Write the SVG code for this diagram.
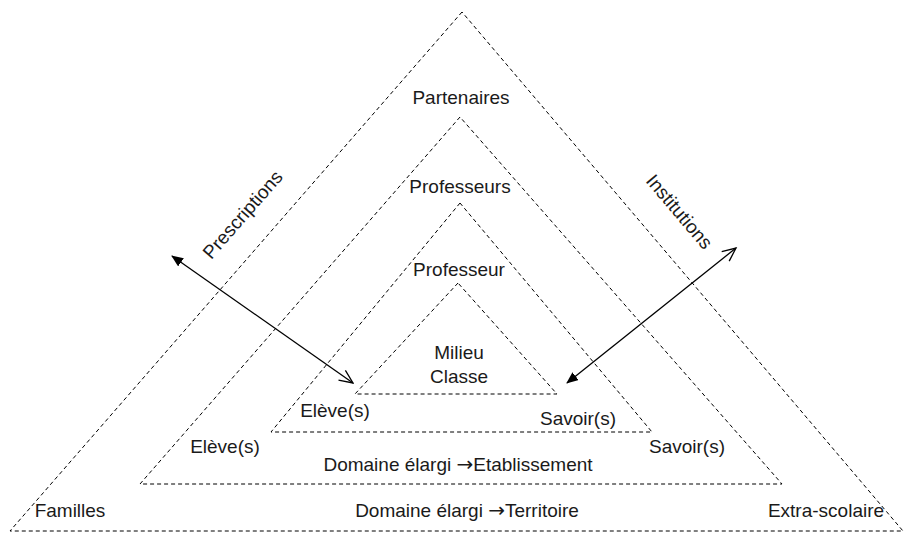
<svg xmlns="http://www.w3.org/2000/svg" width="905" height="534" viewBox="0 0 905 534">
<style>
.tri{fill:none;stroke:#000;stroke-width:1;stroke-dasharray:4 3}
.t{font-family:"Liberation Sans",Arial,sans-serif;font-size:19px;fill:#1a1a1a;text-anchor:middle}
.ar{font-family:"DejaVu Sans",sans-serif;font-size:20px}
.arr{stroke:#000;stroke-width:1.3;fill:none}
</style>
<defs>
<marker id="filled" viewBox="0 0 12 10" refX="11" refY="5" markerWidth="12" markerHeight="10" markerUnits="userSpaceOnUse" orient="auto-start-reverse">
<path d="M0,0 L12,5 L0,10 z" fill="#000"/>
</marker>
<marker id="open" viewBox="0 0 16 14" refX="14.5" refY="7" markerWidth="16" markerHeight="14" markerUnits="userSpaceOnUse" orient="auto-start-reverse">
<path d="M1,1 L14.5,7 L1,13" fill="none" stroke="#000" stroke-width="1.3"/>
</marker>
</defs>
<g id="outer">
<polygon class="tri" points="462,12 10,531 903,531"/>
<text class="t" x="461" y="104">Partenaires</text>
<text class="t" x="70" y="517">Familles</text>
<text class="t" x="467" y="517">Domaine élargi <tspan class="ar">→</tspan>Territoire</text>
<text class="t" x="826" y="517">Extra-scolaire</text>
</g>
<g id="etablissement">
<polygon class="tri" points="460,117 140,484 782,484"/>
<text class="t" x="460" y="193">Professeurs</text>
<text class="t" x="225" y="453">Elève(s)</text>
<text class="t" x="687" y="453">Savoir(s)</text>
<text class="t" x="458" y="471">Domaine élargi <tspan class="ar">→</tspan>Etablissement</text>
</g>
<g id="classe">
<polygon class="tri" points="460,203 271,432 652,432"/>
<text class="t" x="459" y="276">Professeur</text>
<text class="t" x="335" y="417">Elève(s)</text>
<text class="t" x="578" y="425">Savoir(s)</text>
</g>
<g id="milieu">
<polygon class="tri" points="458,283 355,394 557,394"/>
<text class="t" x="459" y="359">Milieu</text>
<text class="t" x="459" y="383">Classe</text>
</g>
<g id="connectors">
<line class="arr" x1="353" y1="383" x2="172" y2="256" marker-start="url(#open)" marker-end="url(#filled)"/>
<line class="arr" x1="736" y1="248" x2="567" y2="383" marker-start="url(#open)" marker-end="url(#filled)"/>
</g>
<g id="labels">
<text class="t" transform="translate(243,215) rotate(-48.7)" x="0" y="6">Prescriptions</text>
<text class="t" transform="translate(679,212) rotate(49.7)" x="0" y="6">Institutions</text>
</g>
</svg>
